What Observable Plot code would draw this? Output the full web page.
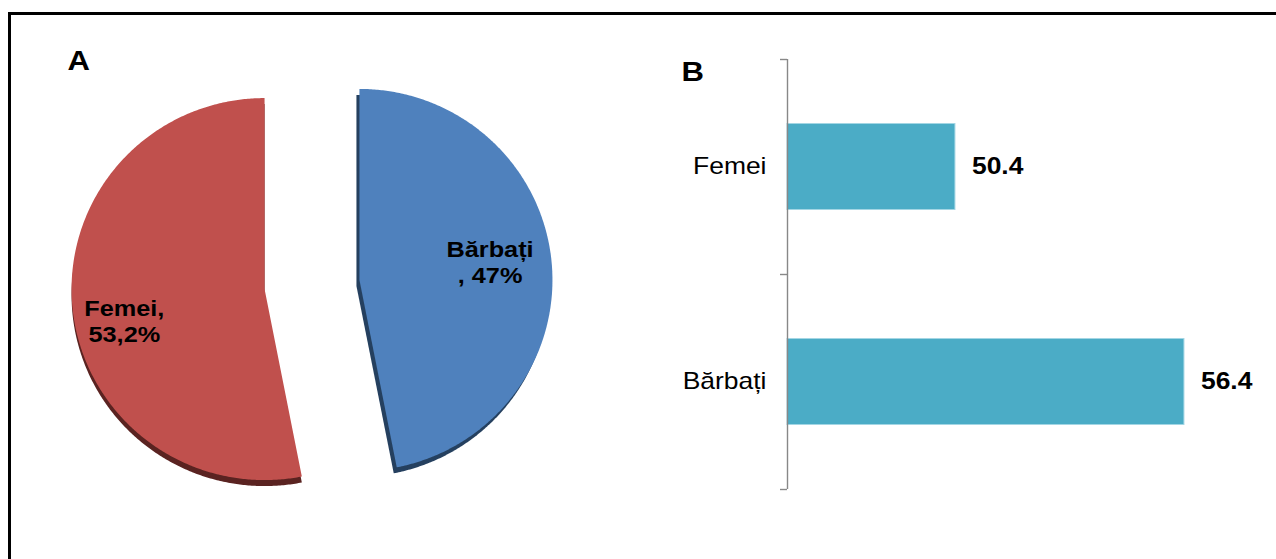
<!DOCTYPE html>
<html>
<head>
<meta charset="utf-8">
<script src="https://cdn.jsdelivr.net/npm/d3@7"></script>
<script src="https://cdn.jsdelivr.net/npm/@observablehq/plot@0.6"></script>
<style>
  html, body { margin: 0; padding: 0; background: #fff; overflow: hidden; }
  #wrap { position: relative; width: 1276px; height: 559px; overflow: hidden; font-family: "Liberation Sans", Arial, sans-serif; }
  #frame { position: absolute; left: 8px; top: 12px; width: 1300px; height: 600px; border: 3px solid #000; box-sizing: border-box; }
  #pie { position: absolute; left: 0; top: 0; }
  #bar { position: absolute; left: 640px; top: 0; }
</style>
</head>
<body>
<div id="wrap">
  <div id="frame"></div>
  <div id="pie"></div>
  <div id="bar"></div>
</div>
<script>
// ---------- data ----------
const pieCategories = ["Bărbați", "Femei"];
const pieShares = [47, 53.2];
const pieLabelText = ["Bărbați\n, 47%", "Femei,\n53,2%"];

const barCategories = ["Femei", "Bărbați"];
const barValues = [50.4, 56.4];

// ---------- styles ----------
const pieColors = ["#4F81BD", "#C0504D"];
const pieDepthColors = ["#25405F", "#5A2321"];
const pieDepthShiftX = [-3, 0];      // px, side of the 3-D edge
const pieDepthShiftY = 6;            // px, thickness of the 3-D edge
const pieLabelNudge = [-6, 18];      // px, vertical nudge of slice labels
const pieLabelRadius = [0.68, 0.73];
const barColor = "#4BACC6";
const FONT = "'Liberation Sans', Arial, Helvetica, sans-serif";
const STRETCH = 1.15;                 // the reference is horizontally stretched

function stretchText(svg) {
  svg.querySelectorAll("text").forEach(t => {
    const tr = t.getAttribute("transform") || "";
    t.setAttribute("transform", tr + ` scale(${STRETCH},1)`);
  });
  return svg;
}

// ---------- pie (A) ----------
const H = 559;
const pieW = 640;
const pxX = 193, pxY = 191;     // pixels per unit radius
const midX = 311.5, midY = 284; // pixel position of the (exploded) pie centre
const explode = 0.247;

const arcs = d3.pie().sort(null)(pieShares);
const slices = arcs.map((a, i) => {
  const mid = (a.startAngle + a.endAngle) / 2;
  const cx = explode * Math.sin(mid), cy = explode * Math.cos(mid);
  const pts = [{x: cx, y: cy}];
  const n = Math.ceil((a.endAngle - a.startAngle) / (Math.PI / 360));
  for (let k = 0; k <= n; k++) {
    const t = a.startAngle + (a.endAngle - a.startAngle) * k / n;
    pts.push({x: cx + Math.sin(t), y: cy + Math.cos(t)});
  }
  const r = pieLabelRadius[i];
  return {
    name: pieCategories[i], i, pts,
    lx: cx + r * Math.sin(mid),
    ly: cy + r * Math.cos(mid) - pieLabelNudge[i] / pxY,
    label: pieLabelText[i]
  };
});
const pieRows = slices.flatMap(s => s.pts.map(p => ({name: s.name, i: s.i, x: p.x, y: p.y})));

const pie = Plot.plot({
  width: pieW, height: H, margin: 0,
  style: {fontFamily: FONT, background: "transparent", overflow: "visible"},
  x: {domain: [-midX / pxX, (pieW - midX) / pxX], axis: null},
  y: {domain: [-(H - midY) / pxY, midY / pxY], axis: null},
  color: {type: "identity"},
  marks: [
    Plot.line(pieRows, {x: d => d.x + pieDepthShiftX[d.i] / pxX, y: d => d.y - pieDepthShiftY / pxY, z: "name", fill: d => pieDepthColors[d.i], stroke: "none"}),
    Plot.line(pieRows, {x: "x", y: "y", z: "name", fill: d => pieColors[d.i], stroke: "none"}),
    Plot.text(slices, {x: "lx", y: "ly", text: "label", fontSize: 22, fontWeight: "bold", fill: "#000", lineHeight: 1.18, textAnchor: "middle"}),
    Plot.text(["A"], {frameAnchor: "top-left", text: d => d, dx: 67, dy: 50, lineAnchor: "top", textAnchor: "start", fontSize: 27, fontWeight: "bold", fill: "#000"})
  ]
});
document.getElementById("pie").appendChild(stretchText(pie));

// ---------- bars (B) ----------
const bars = barCategories.map((c, i) => ({category: c, value: barValues[i], i}));
const barW = 636;
const xMin = 46, xMax = 58;

const bar = Plot.plot({
  width: barW, height: H,
  marginLeft: 147, marginRight: 31, marginTop: 59, marginBottom: 70,
  style: {fontFamily: FONT, background: "transparent", overflow: "visible"},
  x: {domain: [xMin, xMax], axis: null},
  y: {domain: [0, barCategories.length], reverse: true, axis: null},
  marks: [
    Plot.rectX(bars, {x1: xMin, x2: "value", y1: d => d.i + 0.3, y2: d => d.i + 0.7, fill: barColor, stroke: "#A3D6E4", strokeWidth: 1}),
    Plot.ruleX([xMin], {stroke: "#888", strokeWidth: 1.4}),
    Plot.axisY(d3.range(barCategories.length + 1), {tickSize: 7, tickFormat: () => "", stroke: "#888", strokeWidth: 1.4, label: null}),
    Plot.axisY(barCategories.map((c, i) => i + 0.5), {tickSize: 0, tickPadding: 21, tickFormat: d => barCategories[Math.floor(d)], fontSize: 23, fill: "#000", label: null}),
    Plot.text(bars, {x: "value", y: d => d.i + 0.5, text: d => d.value.toFixed(1), textAnchor: "start", dx: 16.5, fontSize: 23, fontWeight: "bold", fill: "#000"}),
    Plot.text(["B"], {frameAnchor: "top-left", text: d => d, dx: -106, dy: 2, lineAnchor: "top", textAnchor: "start", fontSize: 27, fontWeight: "bold", fill: "#000"})
  ]
});
document.getElementById("bar").appendChild(stretchText(bar));
</script>
</body>
</html>
